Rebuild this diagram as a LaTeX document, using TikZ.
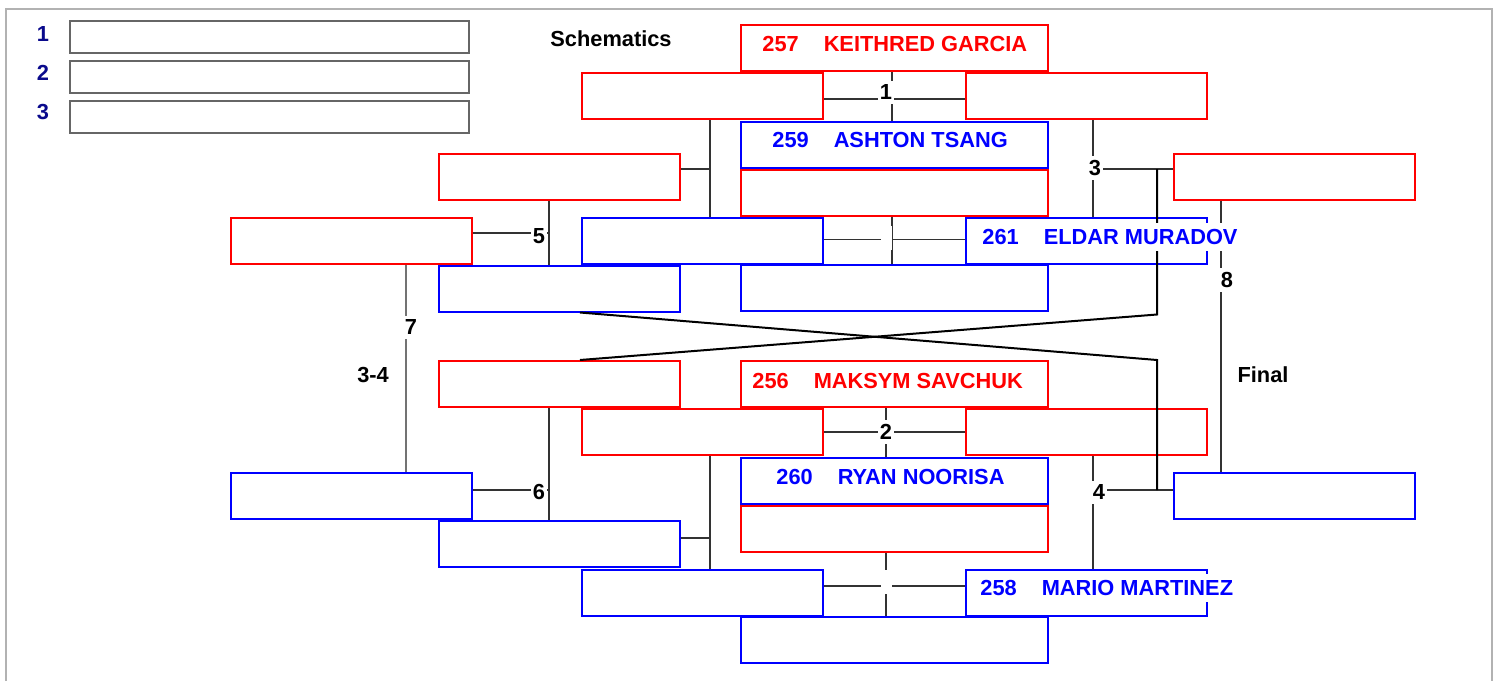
\documentclass[tikz,border=0pt]{standalone}
\usepackage{fontspec}
\setmainfont{Liberation Sans}
\definecolor{navyl}{RGB}{10,10,140}
\begin{document}
\begin{tikzpicture}[x=0.5pt,y=-0.5pt,
  rbox/.style={draw=red, line width=1pt, minimum width=120.5pt, minimum height=23pt, inner sep=0pt},
  bbox/.style={draw=blue, line width=1pt, minimum width=120.5pt, minimum height=23pt, inner sep=0pt},
  wide/.style={minimum width=153.5pt},
  lbox/.style={draw=black!60, line width=1pt, minimum width=199.5pt, minimum height=16pt, inner sep=0pt},
  txt/.style={font=\bfseries\fontsize{10.9}{13}\selectfont, inner sep=0pt},
  lab/.style={txt, fill=white, inner xsep=1pt, inner ysep=2pt},
  nametxt/.style={txt, fill=white, inner xsep=1pt, inner ysep=3pt, anchor=west},
  conn/.style={draw=black!80, line width=0.6pt},
  thk/.style={draw=black, line width=1pt},
  gapbox/.style={fill=white, inner sep=0pt, minimum width=5.5pt, minimum height=12pt}
]
\useasboundingbox (0,0) rectangle (1499,681);
% outer frame
\draw[black!30, line width=1pt] (6,681) -- (6,9) -- (1492,9) -- (1492,681);

% legend
\node[lbox] (lg1) at (269.5,37) {};
\node[lbox] (lg2) at (269.5,77) {};
\node[lbox] (lg3) at (269.5,117) {};
\node[txt, text=navyl] (ln1) at (43,33.5) {1};
\node[txt, text=navyl] (ln2) at (43,73) {2};
\node[txt, text=navyl] (ln3) at (43,112.5) {3};

% centre column
\node[rbox, wide] (C1) at (894.5,48) {};
\node[bbox, wide] (C2) at (894.5,144.5) {};
\node[rbox, wide] (C3) at (894.5,192.5) {};
\node[bbox, wide] (C4) at (894.5,288) {};
\node[rbox, wide] (C5) at (894.5,384) {};
\node[bbox, wide] (C6) at (894.5,480.5) {};
\node[rbox, wide] (C7) at (894.5,528.5) {};
\node[bbox, wide] (C8) at (894.5,640) {};
% second column left / right
\node[rbox] (L1) at (702.5,96) {};
\node[bbox] (L2) at (702.5,240.5) {};
\node[rbox] (L3) at (702.5,432) {};
\node[bbox] (L4) at (702.5,592.5) {};
\node[rbox] (R1) at (1086,96) {};
\node[bbox] (R2) at (1086,240.5) {};
\node[rbox] (R3) at (1086,432) {};
\node[bbox] (R4) at (1086,592.5) {};
% third column
\node[rbox] (M1) at (559,176.5) {};
\node[bbox] (M2) at (559,288.5) {};
\node[rbox] (M3) at (559,384) {};
\node[bbox] (M4) at (559,544) {};
% fourth column
\node[rbox] (F1) at (351,240.5) {};
\node[bbox] (F2) at (351,496) {};
% final
\node[rbox] (G1) at (1294,176.5) {};
\node[bbox] (G2) at (1294,496) {};

% guide coordinates
\coordinate (xa) at (892,0);
\coordinate (xb) at (886,0);
\coordinate (v1) at (710,0);
\coordinate (v2) at (1093,0);
\coordinate (v3) at (1157,0);
\coordinate (v4) at (549,0);
\coordinate (v5) at (406,0);
\coordinate (v6) at (1221,0);

% match 1 and the one below it
\draw[conn] (xa |- C1.south) -- (xa |- C2.north);
\draw[conn] ([yshift=-1.5pt]L1.east) -- ([yshift=-1.5pt]R1.west);
\draw[conn] (xa |- C3.south) -- (xa |- C4.north);
\draw[conn] ([yshift=0.5pt]L2.east) -- ([yshift=0.5pt]R2.west);
\node[gapbox] (gapA) at (886,238) {};
% match 2 and the one below it
\draw[conn] (xb |- C5.south) -- (xb |- C6.north);
\draw[conn] (L3.east) -- (R3.west);
\draw[conn] (xb |- C7.south) -- (xb |- C8.north);
\draw[conn] ([yshift=3.25pt]L4.east) -- ([yshift=3.25pt]R4.west);
\node[gapbox] (gapB) at (886,582) {};
% left brackets
\draw[conn] (v1 |- L1.south) -- (v1 |- L2.north);
\draw[conn] ([yshift=3.75pt]M1.east) -- ([yshift=3.75pt]M1.east -| v1);
\draw[conn] (v1 |- L3.south) -- (v1 |- L4.north);
\draw[conn] ([yshift=3pt]M4.east) -- ([yshift=3pt]M4.east -| v1);
% right brackets
\draw[conn] (v2 |- R1.south) -- (v2 |- R2.north);
\draw[conn] ([yshift=3.75pt]G1.west) -- ([yshift=3.75pt]G1.west -| v2);
\draw[conn] (v2 |- R3.south) -- (v2 |- R4.north);
\draw[conn] ([yshift=3pt]G2.west) -- ([yshift=3pt]G2.west -| v2);
% losers to repechage (thick)
\draw[thk] ([yshift=3.75pt]G1.west -| v3) -- ([yshift=-1pt]M2.south -| v3) -- ([xshift=10.5pt]M3.north);
\draw[thk] ([xshift=10.5pt]M2.south) -- (M3.north -| v3) -- ([yshift=3pt]G2.west -| v3);
% repechage 5 and 6
\draw[conn] (v4 |- M1.south) -- (v4 |- M2.north);
\draw[conn] ([yshift=3.75pt]F1.east) -- ([yshift=3.75pt]F1.east -| v4);
\draw[conn] (v4 |- M3.south) -- (v4 |- M4.north);
\draw[conn] ([yshift=3pt]F2.east) -- ([yshift=3pt]F2.east -| v4);
% bronze 7 and final 8
\draw[draw=black!55, line width=0.6pt] (v5 |- F1.south) -- (v5 |- F2.north);
\draw[conn] (v6 |- G1.south) -- (v6 |- G2.north);

% names
\node[nametxt, text=red] (n257) at (760,44) {257\hspace{12.5pt}KEITHRED GARCIA};
\node[nametxt, text=blue] (n259) at (770,140) {259\hspace{12.5pt}ASHTON TSANG};
\node[nametxt, text=blue] (n261) at (980,237) {261\hspace{12.5pt}ELDAR MURADOV};
\node[nametxt, text=red] (n256) at (750,381) {256\hspace{12.5pt}MAKSYM SAVCHUK};
\node[nametxt, text=blue] (n260) at (774,477) {260\hspace{12.5pt}RYAN NOORISA};
\node[nametxt, text=blue] (n258) at (978,588) {258\hspace{12.5pt}MARIO MARTINEZ};

% match labels
\node[lab] (t1) at (886,92) {1};
\node[lab] (t2) at (886,432) {2};
\node[lab] (t3) at (1095,168) {3};
\node[lab] (t4) at (1099,492) {4};
\node[lab] (t5) at (539,236) {5};
\node[lab] (t6) at (539,492) {6};
\node[lab] (t7) at (411,327) {7};
\node[lab] (t8) at (1227,280) {8};
\node[txt] (t34) at (373,375) {3-4};
\node[txt] (tfin) at (1263,375) {Final};
\node[txt, anchor=west] (tsch) at (550,39) {Schematics};
\end{tikzpicture}
\end{document}
